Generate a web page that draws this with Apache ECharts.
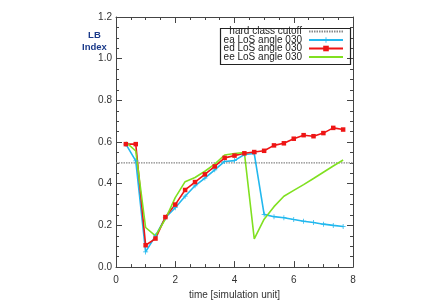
<!DOCTYPE html>
<html><head><meta charset="utf-8">
<script src="https://cdn.jsdelivr.net/npm/echarts@6/dist/echarts.min.js"></script>
<style>html,body{margin:0;padding:0;background:#fff}#c{width:432px;height:305px}</style>
</head><body><div id="c"></div>
<script>
var times = [0.333,0.667,1,1.333,1.667,2,2.333,2.667,3,3.333,3.667,4,4.333,4.667,5,5.333,5.667,6,6.333,6.667,7,7.333,7.667];
var eaVals = [0.59,0.51,0.073,0.15,0.237,0.285,0.34,0.39,0.427,0.467,0.507,0.511,0.54,0.545,0.253,0.242,0.237,0.228,0.22,0.214,0.206,0.20,0.195];
var edVals = [0.59,0.59,0.105,0.137,0.24,0.30,0.37,0.408,0.445,0.483,0.524,0.535,0.546,0.552,0.558,0.584,0.594,0.616,0.633,0.628,0.643,0.668,0.66];
var eeVals = [0.60,0.557,0.19,0.15,0.23,0.333,0.41,0.43,0.46,0.494,0.538,0.545,0.55,0.135,0.23,0.29,0.34,0.368,0.396,0.425,0.455,0.485,0.514];
var cutoffX = [0, 8];
var cutoffY = [0.5, 0.5];
var seriesNames = ['hard class cutoff','ea LoS angle 030','ed LoS angle 030','ee LoS angle 030'];
var xLabel = 'time [simulation unit]';
var yLabel = 'LB\nIndex';

function pairs(xs, ys){ return xs.map(function(x,i){return [x, ys[i]];}); }
var plus = 'path://M-0.15,-1L0.15,-1L0.15,-0.15L1,-0.15L1,0.15L0.15,0.15L0.15,1L-0.15,1L-0.15,0.15L-1,0.15L-1,-0.15L-0.15,-0.15Z';
var axisCol = '#444';
var font = 'Liberation Sans';
function xAx(pos, show){
  return {type:'value', position:pos, min:0, max:8, interval:2,
    axisLine:{show:true, onZero:false, lineStyle:{color:axisCol,width:1}},
    axisTick:{show:true, inside:true, length:6, lineStyle:{color:axisCol}},
    minorTick:{show:true, splitNumber:4, length:3, lineStyle:{color:axisCol}},
    splitLine:{show:false},
    axisLabel:{show:show, color:'#333', fontSize:10, fontFamily:font, margin:8},
    name: show ? xLabel : '', nameLocation:'middle', nameGap:22,
    nameTextStyle:{color:'#333', fontSize:10, fontFamily:font}};
}
function yAx(pos, show){
  return {type:'value', position:pos, min:0, max:1.2, interval:0.2,
    axisLine:{show:true, onZero:false, lineStyle:{color:axisCol,width:1}},
    axisTick:{show:true, inside:true, length:6, lineStyle:{color:axisCol}},
    minorTick:{show:true, splitNumber:4, length:3, lineStyle:{color:axisCol}},
    splitLine:{show:false},
    axisLabel:{show:show, color:'#333', fontSize:10, fontFamily:font, margin:4,
      formatter:function(v){return v.toFixed(1);}}};
}
var legendTops = [26.5, 35, 43.5, 52];
var hideSym = [true, false, false, true];
var legends = seriesNames.map(function(n, i){
  var item = {name:n};
  if (hideSym[i]) item.itemStyle = {opacity:0};
  return {orient:'horizontal', right:88, top:legendTops[i], align:'right',
    data:[item], itemWidth:34, itemHeight:7, padding:0, selectedMode:false,
    textStyle:{color:'#222', fontSize:10, fontFamily:font, padding:[0,2,0,0]}};
});
var chart = echarts.init(document.getElementById('c'), null, {renderer:'canvas'});
chart.setOption({
  animation:false,
  backgroundColor:'#fff',
  grid:{left:116, right:79, top:17, bottom:35, containLabel:false},
  xAxis:[xAx('bottom', true), xAx('top', false)],
  yAxis:[yAx('left', true), yAx('right', false)],
  legend:legends,
  graphic:[
    {type:'rect', left:218, top:26, shape:{width:130, height:36}, style:{fill:'none', stroke:'#222', lineWidth:1.2}, z:100},
    {type:'text', left:82, top:29, style:{text:yLabel, fill:'#1a3a8a', font:'bold 9.5px "Liberation Sans"', textAlign:'center', lineHeight:12}}
  ],
  series:[
    {name:seriesNames[0], type:'line', data:pairs(cutoffX, cutoffY), symbol:'none',
      lineStyle:{color:'#888', width:1.2, type:[1.5,1]}, itemStyle:{color:'#888'}, z:1},
    {name:seriesNames[1], type:'line', data:pairs(times, eaVals), symbol:plus, symbolSize:5,
      lineStyle:{color:'#22b8ee', width:1.6}, itemStyle:{color:'#22b8ee'}},
    {name:seriesNames[2], type:'line', data:pairs(times, edVals), symbol:'rect', symbolSize:4.5,
      lineStyle:{color:'#ee1515', width:1.6}, itemStyle:{color:'#ee1515'}},
    {name:seriesNames[3], type:'line', data:pairs(times, eeVals), symbol:'none',
      lineStyle:{color:'#80e020', width:1.6}, itemStyle:{color:'#80e020'}}
  ]
});
</script></body></html>
